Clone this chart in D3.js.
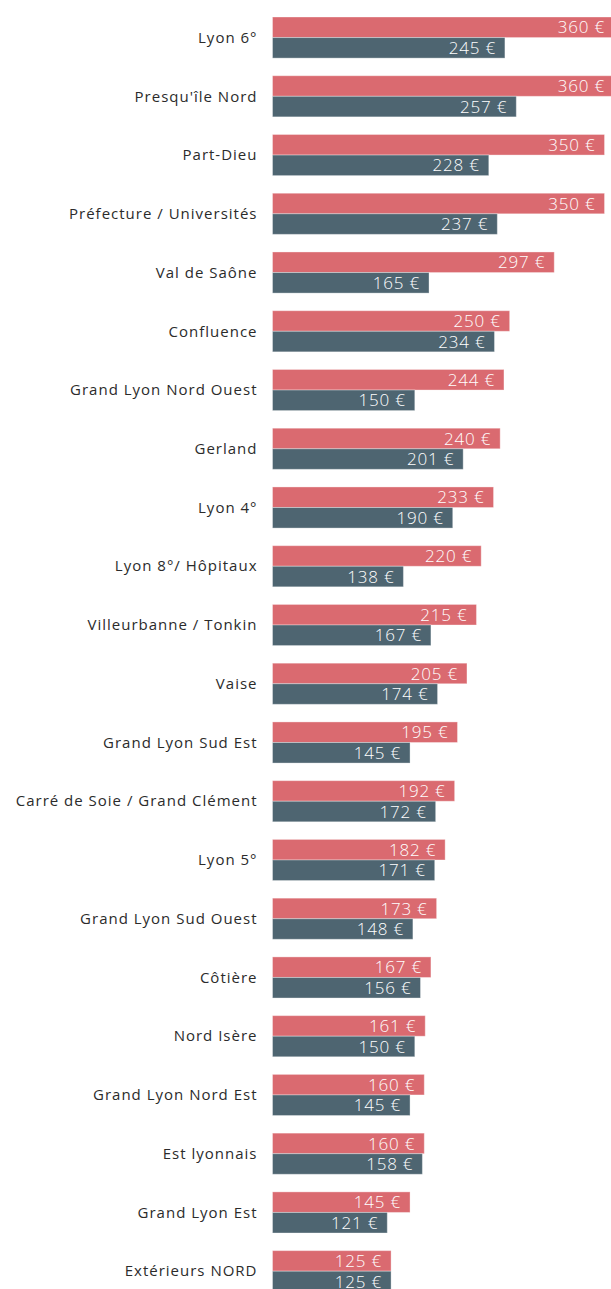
<!DOCTYPE html>
<html>
<head>
<meta charset="utf-8">
<script src="https://cdn.jsdelivr.net/npm/d3@7"></script>
<style>
  body { margin: 0; background: #fff; }
  svg { display: block; }
  .cat-label { font-family: "Open Sans", sans-serif; font-size: 15px; letter-spacing: 1px; fill: #2b2b2b; }
  .val-label { font-family: "Open Sans", sans-serif; font-size: 17px; font-weight: 300; letter-spacing: 0.8px; fill: #fff; }
</style>
</head>
<body>
<svg id="chart"></svg>
<script>
// Categories, top to bottom
var categories = ["Lyon 6°", "Presqu'île Nord", "Part-Dieu", "Préfecture / Universités",
  "Val de Saône", "Confluence", "Grand Lyon Nord Ouest", "Gerland", "Lyon 4°",
  "Lyon 8°/ Hôpitaux", "Villeurbanne / Tonkin", "Vaise", "Grand Lyon Sud Est",
  "Carré de Soie / Grand Clément", "Lyon 5°", "Grand Lyon Sud Ouest", "Côtière",
  "Nord Isère", "Grand Lyon Nord Est", "Est lyonnais", "Grand Lyon Est", "Extérieurs NORD"];

// Series values
var seriesA = [360, 360, 350, 350, 297, 250, 244, 240, 233, 220, 215, 205, 195, 192, 182, 173, 167, 161, 160, 160, 145, 125];
var seriesB = [245, 257, 228, 237, 165, 234, 150, 201, 190, 138, 167, 174, 145, 172, 171, 148, 156, 150, 145, 158, 121, 125];

var seriesKeys = ["a", "b"];
var colors = {a: "#da6a70", b: "#4e6571"};

var width = 611;
var height = 1289;

var svg = d3.select("#chart")
    .attr("width", width)
    .attr("height", height);

// Scales
var x = d3.scaleLinear()
    .domain([0, 360])
    .range([272.5, 614]);

var y = d3.scaleBand()
    .domain(categories)
    .range([17, 17 + 21 * 58.75 + 41])
    .paddingInner(0.3)
    .paddingOuter(0)
    .align(0);

var ySub = d3.scaleBand()
    .domain(seriesKeys)
    .range([0, y.bandwidth()]);

// Build rows
var rows = categories.map(function(c, i) {
  return {cat: c, a: seriesA[i], b: seriesB[i]};
});

var groups = svg.selectAll(".group")
  .data(rows)
  .enter().append("g")
    .attr("class", "group")
    .attr("transform", d => "translate(0," + y(d.cat) + ")");

// Category labels
groups.append("text")
    .attr("class", "cat-label")
    .attr("x", x(0) - 15)
    .attr("y", y.bandwidth() / 2)
    .attr("dy", "0.35em")
    .attr("text-anchor", "end")
    .text(d => d.cat);

// Bars
var cells = groups.selectAll(".cell")
  .data(d => seriesKeys.map(k => ({key: k, value: d[k]})))
  .enter().append("g")
    .attr("class", "cell");

cells.append("rect")
    .attr("x", x(0))
    .attr("y", d => ySub(d.key))
    .attr("width", d => x(d.value) - x(0))
    .attr("height", ySub.bandwidth())
    .attr("fill", d => colors[d.key])
    .attr("stroke", "#fff")
    .attr("stroke-opacity", 0.35)
    .attr("stroke-width", 1);

// Value labels
cells.append("text")
    .attr("class", "val-label")
    .attr("x", d => x(d.value) - 9)
    .attr("y", d => ySub(d.key) + ySub.bandwidth() / 2)
    .attr("dy", "0.36em")
    .attr("text-anchor", "end")
    .text(d => d.value + " €");
</script>
</body>
</html>
